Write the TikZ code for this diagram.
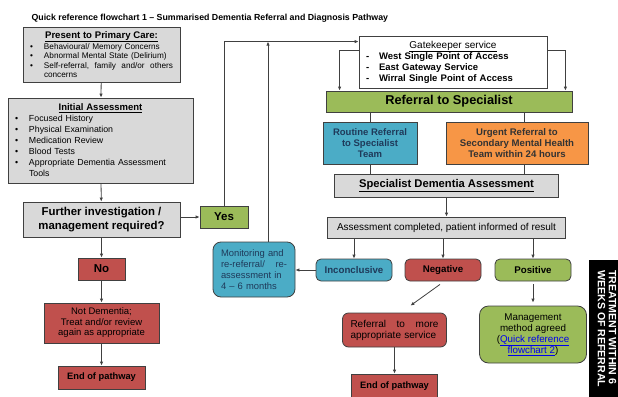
\documentclass[tikz,border=0pt]{standalone}
\usepackage{fontspec}
\setmainfont{Liberation Sans}
\usetikzlibrary{arrows.meta}
\definecolor{boxgray}{HTML}{D9D9D9}
\definecolor{boxgreen}{HTML}{9BBB59}
\definecolor{boxblue}{HTML}{4BACC6}
\definecolor{boxorange}{HTML}{F79646}
\definecolor{boxred}{HTML}{C0504D}
\definecolor{lineg}{HTML}{404040}
\definecolor{navytext}{HTML}{1F3A5A}
\definecolor{linkblue}{HTML}{0000EE}
\tikzset{
    box/.style={draw=lineg, line width=0.8pt, inner sep=0pt, align=center,
                font=\fontsize{9.5}{10.5}\selectfont},
    rbox/.style={box, rounded corners=5pt},
    conn/.style={draw=lineg, line width=0.8pt},
    >={Latex[length=4pt,width=3.5pt]}
}
\newcommand{\bul}{\makebox[14pt][l]{\textbullet}}
\begin{document}
\begin{tikzpicture}[x=1pt, y=-1pt]
        \useasboundingbox (0,0) rectangle (618,396);
        % title
        \node[anchor=west, font=\fontsize{8.8}{10}\selectfont\bfseries] (title) at (28,18)
            {Quick reference flowchart 1 -- Summarised Dementia Referral and Diagnosis Pathway};

        % primary care column
        \node[box, fill=boxgray, minimum width=157pt, minimum height=55pt, text width=143pt,
              align=left, font=\fontsize{8.2}{9.6}\selectfont] (present) at (101.5,54.5)
            {{\centering\fontsize{9.6}{11}\selectfont\bfseries\underline{Present to Primary Care:}\par}
             \bul Behavioural/ Memory Concerns\\
             \bul Abnormal Mental State (Delirium)\\
             \bul Self-referral,\hfill family\hfill and/or\hfill others\\
             \hspace*{14pt}concerns};
        \node[box, fill=boxgray, minimum width=185pt, minimum height=85pt, text width=171pt,
              align=left, font=\fontsize{8.8}{11}\selectfont] (initial) at (100.5,140.5)
            {{\centering\fontsize{9.5}{11}\selectfont\bfseries\underline{Initial Assessment}\par}
             \bul Focused History\\
             \bul Physical Examination\\
             \bul Medication Review\\
             \bul Blood Tests\\
             \bul Appropriate Dementia Assessment\\
             \hspace*{14pt}Tools};
        \node[box, fill=boxgray, minimum width=157pt, minimum height=35pt,
              font=\fontsize{11.4}{14.5}\selectfont\bfseries] (further) at (101.5,219.5)
            {Further investigation /\\management required?};
        \node[box, fill=boxgreen, minimum width=48pt, minimum height=22pt,
              font=\fontsize{11.5}{12}\selectfont\bfseries] (yes) at (224,217) {Yes};
        \node[box, fill=boxred, minimum width=47pt, minimum height=22pt,
              font=\fontsize{11.5}{12}\selectfont\bfseries] (no) at (101.5,269) {No};
        \node[box, fill=boxred, minimum width=115pt, minimum height=40pt] (notdem) at (101.5,323)
            {Not Dementia;\\Treat and/or review\\again as appropriate};
        \node[box, fill=boxred, minimum width=87pt, minimum height=23pt,
              font=\fontsize{9.3}{10}\selectfont\bfseries] (endl) at (101.5,377.5) {End of pathway};

        % monitoring loop
        \node[rbox, fill=boxblue, minimum width=82pt, minimum height=55pt, text width=66pt,
              align=left, text=navytext, rounded corners=8pt,
              font=\fontsize{9.4}{11}\selectfont] (monitor) at (254,269.5)
            {Monitoring and\\re-referral/\hfill re-\\assessment in\\4 -- 6 months};

        % specialist column
        \node[box, fill=white, minimum width=188pt, minimum height=52pt, text width=174pt,
              align=left, font=\fontsize{9.5}{11}\selectfont] (gate) at (453,62)
            {{\centering\fontsize{10}{11}\selectfont\underline{Gatekeeper service}\par}
             \bfseries
             \makebox[13pt][l]{-}West Single Point of Access\\
             \makebox[13pt][l]{-}East Gateway Service\\
             \makebox[13pt][l]{-}Wirral Single Point of Access};
        \node[box, fill=boxgreen, minimum width=246pt, minimum height=21pt,
              font=\fontsize{12.8}{14}\selectfont\bfseries] (referral) at (449,101.5)
            {Referral to Specialist};
        \node[box, fill=boxblue, minimum width=94pt, minimum height=42pt, text=navytext,
              font=\fontsize{9.5}{11}\selectfont\bfseries] (routine) at (370,143)
            {Routine Referral\\to Specialist\\Team};
        \node[box, fill=boxorange, minimum width=142pt, minimum height=42pt, text=black!80,
              font=\fontsize{9.6}{11}\selectfont\bfseries] (urgent) at (517,143)
            {Urgent Referral to\\Secondary Mental Health\\Team within 24 hours};
        \node[box, fill=boxgray, minimum width=224pt, minimum height=23pt,
              font=\fontsize{11.2}{12}\selectfont\bfseries] (spec) at (446.5,185.5)
            {\underline{Specialist Dementia Assessment}};
        \node[box, fill=boxgray, minimum width=238pt, minimum height=21pt,
              font=\fontsize{10}{11}\selectfont] (assess) at (446.5,227.5)
            {Assessment completed, patient informed of result};

        % results
        \node[rbox, fill=boxblue, minimum width=76pt, minimum height=22pt, text=navytext,
              font=\fontsize{9.7}{11}\selectfont\bfseries] (inconc) at (354,270) {Inconclusive};
        \node[rbox, fill=boxred, minimum width=76pt, minimum height=22pt,
              font=\fontsize{9.7}{11}\selectfont\bfseries] (neg) at (443,270) {Negative};
        \node[rbox, fill=boxgreen, minimum width=76pt, minimum height=22pt,
              font=\fontsize{9.7}{11}\selectfont\bfseries] (pos) at (533,270) {Positive};
        \node[rbox, fill=boxred, minimum width=104pt, minimum height=34pt, text width=88pt,
              align=left, rounded corners=6pt, font=\fontsize{10}{11}\selectfont] (refmore) at (394.5,330)
            {Referral\hfill to\hfill more\\appropriate service};
        \node[box, fill=boxred, minimum width=86pt, minimum height=24pt,
              font=\fontsize{9.3}{10}\selectfont\bfseries] (endr) at (394.5,386) {End of pathway};
        \node[rbox, fill=boxgreen, minimum width=107pt, minimum height=57pt,
              rounded corners=9pt, font=\fontsize{9.8}{11}\selectfont] (manage) at (533,334.5)
            {Management\\method agreed\\(\textcolor{linkblue}{\underline{Quick reference}}\\
             \textcolor{linkblue}{\underline{flowchart 2}})};

        % side banner
        \fill[black] (589,260) rectangle (625,400);
        \node[anchor=north west, rotate=-90, inner sep=0pt, align=left, text=white,
              font=\fontsize{10.6}{11}\selectfont\bfseries] (banner) at (616.5,270)
            {TREATMENT WITHIN 6\\WEEKS OF REFERRAL};

        % connectors, left column
        \draw[conn,->] (present) -- (initial);
        \draw[conn,->] (initial) -- (further);
        \draw[conn,->] (yes.west -| further.east) -- (yes.west);
        \draw[conn,->] (further) -- (no);
        \draw[conn,->] (no) -- (notdem);
        \draw[conn,->] (notdem) -- (endl);

        % back into the gatekeeper
        \coordinate (gatein) at ([yshift=-6pt]gate.north west);
        \draw[conn,->] (yes.north) |- (gatein);
        \draw[conn,->] ([xshift=14pt]monitor.north) -- ([xshift=14pt]monitor.north |- gatein);
        \draw[conn,->] ([yshift=-15pt]gate.north west) -| ([xshift=14pt]referral.north west);
        \draw[conn,->] ([yshift=-15pt]gate.north east) -| ([xshift=-7pt]referral.north east);

        % specialist column
        \coordinate (uline) at ([xshift=7pt]urgent.north);
        \draw[conn] (routine.north |- referral.south) -- (routine.north);
        \draw[conn] (uline |- referral.south) -- (uline);
        \draw[conn] (routine.south) -- (routine.south |- spec.north);
        \draw[conn] (uline |- urgent.south) -- (uline |- spec.north);
        \draw[conn,->] (spec) -- (assess);
        \foreach \n in {inconc,neg,pos}
            \draw[conn,->] (\n.north |- assess.south) -- (\n.north);
        \draw[conn,->] (inconc.west) -- (monitor.east |- inconc.west);
        \draw[conn,->] ([shift={(-3pt,-3pt)}]neg.south) -- ([shift={(16pt,7pt)}]refmore.north);
        \draw[conn,->] (refmore) -- (endr);
        \draw[conn,->] ([yshift=-3pt]pos.south) -- ([yshift=3pt]manage.north);
\end{tikzpicture}
\end{document}
